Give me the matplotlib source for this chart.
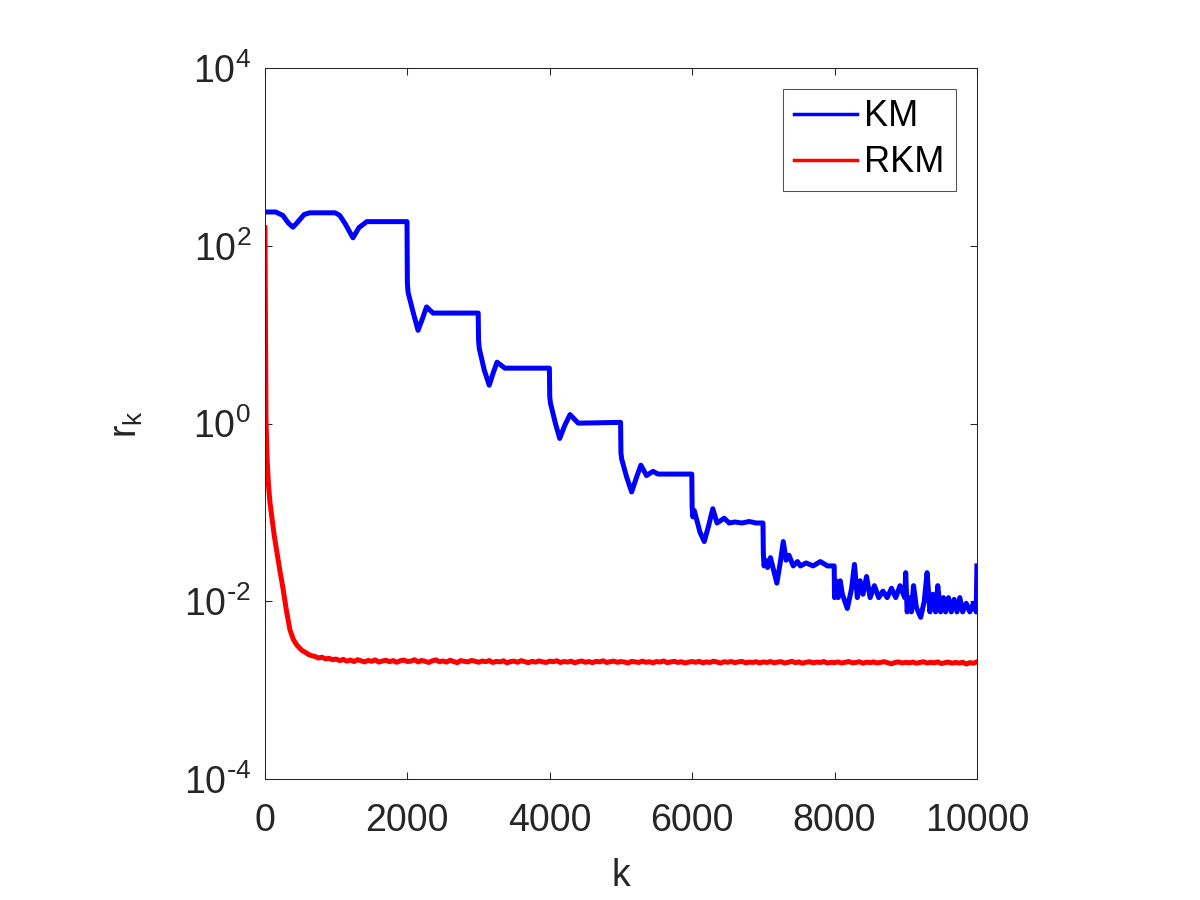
import matplotlib
matplotlib.use("Agg")
import matplotlib.pyplot as plt
import numpy as np

plt.rcParams['font.family'] = ['Liberation Sans', 'DejaVu Sans']
plt.rcParams['mathtext.default'] = 'regular'

# KM residual: step-like decay
km_k = [0, 150, 250, 330, 393, 460, 550, 630, 985, 1050, 1130, 1236, 1320, 1430, 1995,
        2000, 2010, 2080, 2150, 2210, 2270, 2360, 2995,
        3000, 3010, 3080, 3150, 3210, 3260, 3370, 3995,
        4000, 4010, 4080, 4140, 4210, 4285, 4400, 4995,
        5000, 5010, 5080, 5150, 5220, 5280, 5360, 5450, 5520, 5995,
        6000, 6010, 6030, 6060, 6110, 6170, 6230, 6290, 6350, 6450, 6520, 6600, 6700, 6800, 6900, 6995,
        7000, 7010, 7030, 7060, 7100, 7190, 7240, 7280, 7320, 7360, 7420, 7480, 7520, 7600, 7700, 7800, 7900, 7995,
        8000, 8020, 8050, 8080, 8110, 8180, 8240, 8280, 8320, 8360, 8400, 8450, 8500, 8560, 8620, 8680, 8740,
        8800, 8860, 8920, 8985,
        9000, 9020, 9050, 9080, 9110, 9150, 9210, 9260, 9300, 9340, 9380, 9420, 9450, 9490, 9530, 9560, 9600,
        9640, 9680, 9720, 9760, 9800, 9850, 9900, 9950, 9990, 10000]
km_r = [240, 240, 220, 180, 162, 185, 225, 235, 235, 220, 175, 123, 160, 187, 187,
        38, 30, 18, 11.2, 15, 20.5, 17.5, 17.5,
        8.7, 7.0, 4.0, 2.7, 3.8, 4.9, 4.2, 4.2,
        2.0, 1.7, 1.0, 0.68, 0.95, 1.26, 1.01, 1.03,
        0.47, 0.40, 0.25, 0.17, 0.25, 0.34, 0.26, 0.29, 0.27, 0.27,
        0.115, 0.089, 0.105, 0.085, 0.06, 0.047, 0.07, 0.11, 0.076, 0.086, 0.076, 0.078, 0.076, 0.079, 0.076, 0.076,
        0.035, 0.025, 0.029, 0.024, 0.031, 0.016, 0.028, 0.047, 0.029, 0.033, 0.025, 0.028, 0.025, 0.027, 0.025,
        0.028, 0.025, 0.025,
        0.011, 0.017, 0.011, 0.017, 0.012, 0.0083, 0.014, 0.026, 0.011, 0.017, 0.012, 0.019, 0.011, 0.015, 0.011,
        0.013, 0.011, 0.014, 0.011, 0.015, 0.011,
        0.021, 0.0076, 0.011, 0.0076, 0.015, 0.0085, 0.0066, 0.010, 0.021, 0.0076, 0.012, 0.0076, 0.015, 0.0076,
        0.011, 0.0076, 0.011, 0.0076, 0.0105, 0.0076, 0.011, 0.0076, 0.0095, 0.0076, 0.0095, 0.0076, 0.025]

# RKM residual: fast initial drop, then a noisy floor (every 50 iterations from k=600)
rkm_head_k = [0, 3, 7, 14, 30, 50, 70, 100, 130, 170, 210, 250, 300, 350, 400, 450, 520, 590]
rkm_head_r = [160, 50, 10, 1.1, 0.4, 0.2, 0.13, 0.085, 0.055, 0.035, 0.022, 0.0145, 0.008, 0.0048, 0.0037,
              0.0032, 0.0028, 0.0026]
rkm_tail_k = np.arange(600, 10001, 50)
rkm_tail_r = np.array([
    2.55, 2.45, 2.40, 2.30, 2.35, 2.25, 2.28, 2.20, 2.24,
    2.15, 2.22, 2.12, 2.18, 2.10, 2.20, 2.14, 2.08, 2.16, 2.11, 2.19, 2.07, 2.13, 2.17, 2.09, 2.15, 2.06, 2.14, 2.18, 2.10,
    2.12, 2.20, 2.08, 2.16, 2.11, 2.05, 2.14, 2.19, 2.09, 2.13, 2.07, 2.17, 2.10, 2.04, 2.15, 2.11, 2.08, 2.16, 2.12, 2.06,
    2.13, 2.09, 2.15, 2.05, 2.11, 2.08, 2.14, 2.03, 2.10, 2.12, 2.06, 2.15, 2.09, 2.04, 2.11, 2.07, 2.13, 2.08, 2.05, 2.12,
    2.09, 2.14, 2.05, 2.10, 2.07, 2.12, 2.03, 2.09, 2.13, 2.06, 2.10, 2.04, 2.11, 2.08, 2.14, 2.05, 2.09, 2.12, 2.06, 2.10,
    2.07, 2.02, 2.11, 2.08, 2.05, 2.12, 2.06, 2.09, 2.03, 2.10, 2.07, 2.13, 2.04, 2.08, 2.11, 2.05, 2.09, 2.02, 2.07, 2.10,
    2.06, 2.11, 2.03, 2.08, 2.05, 2.12, 2.07, 2.02, 2.09, 2.06, 2.10, 2.04, 2.08, 2.11, 2.03, 2.07, 2.05, 2.09, 2.02, 2.08,
    2.05, 2.10, 2.03, 2.07, 2.09, 2.02, 2.06, 2.11, 2.04, 2.08, 2.01, 2.06, 2.09, 2.03, 2.07, 2.05, 2.10, 2.02, 2.06, 2.04,
    2.08, 2.02, 2.06, 2.10, 2.03, 2.05, 2.09, 2.01, 2.07, 2.04, 2.08, 2.02, 2.06, 2.09, 2.03, 1.98, 2.05, 2.08, 2.02, 2.06,
    2.03, 2.07, 2.01, 2.05, 2.09, 2.02, 2.06, 2.03, 2.08, 1.99, 2.04, 2.07, 2.01, 2.05, 2.02, 2.06, 1.97, 2.04, 2.01, 2.08,
]) * 1e-3

rkm_k = np.concatenate([rkm_head_k, rkm_tail_k])
rkm_r = np.concatenate([rkm_head_r, rkm_tail_r])

y_ticks = [1e-4, 1e-2, 1e0, 1e2, 1e4]
y_tick_labels = ['$10^{\\text{-}4}$', '$10^{\\text{-}2}$', '$10^{0}$', '$10^{2}$', '$10^{4}$']
x_ticks = [0, 2000, 4000, 6000, 8000, 10000]

axis_col = '#262626'

fig = plt.figure(figsize=(12, 9), dpi=100)
ax = fig.add_axes([0.2208, 0.1344, 0.5933, 0.79])

ax.plot(km_k, km_r, color='#0000ff', lw=3.6, solid_joinstyle='round', label='KM')
ax.plot(rkm_k, rkm_r, color='#ff0000', lw=3.6, solid_joinstyle='round', label='RKM')

ax.set_yscale('log')
ax.set_xlim(0, 10000)
ax.set_ylim(1e-4, 1e4)
ax.set_xticks(x_ticks)
ax.set_yticks(y_ticks)
ax.minorticks_off()
ax.set_xticklabels([str(t) for t in x_ticks])
ax.set_yticklabels(y_tick_labels)

ax.tick_params(direction='in', length=5, width=0.75, top=True, right=True,
               labelsize=27, colors=axis_col)
ax.tick_params(axis='x', pad=17)
ax.tick_params(axis='y', pad=10)
for s in ax.spines.values():
    s.set_color(axis_col)
    s.set_linewidth(0.75)

ax.set_xlabel('k', fontsize=27, color=axis_col, labelpad=14)
ax.set_ylabel('r$_{k}$', fontsize=27, color=axis_col, labelpad=28)

leg = ax.legend(loc='upper right', bbox_to_anchor=(0.97, 0.971), fontsize=26,
                frameon=True, fancybox=False, edgecolor=axis_col, handlelength=1.75,
                handletextpad=0.2, borderpad=0.3, labelspacing=0.3, borderaxespad=0)
leg.get_frame().set_linewidth(0.75)
for line in leg.get_lines():
    line.set_linewidth(2.5)

fig.savefig('out.png', dpi=100)
